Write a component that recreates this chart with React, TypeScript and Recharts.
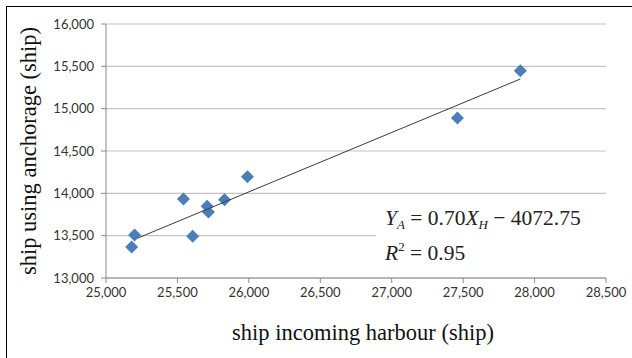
import {
  CartesianGrid,
  Label,
  ReferenceArea,
  Scatter,
  ScatterChart,
  XAxis,
  YAxis,
} from "recharts";

// ships entering harbour vs ships using anchorage
const harbourIn = [25180, 25200, 25542, 25607, 25708, 25717, 25830, 25990, 27460, 27900];
const anchorage = [13366, 13508, 13933, 13492, 13846, 13780, 13925, 14197, 14890, 15448];

const trendX = [25220, 27900];
const trendY = [13470, 15350];

const xTicks = [25000, 25500, 26000, 26500, 27000, 27500, 28000, 28500];
const yTicks = [13000, 13500, 14000, 14500, 15000, 15500, 16000];

const points = harbourIn.map((x, i) => ({ x, y: anchorage[i] }));
const trend = trendX.map((x, i) => ({ x, y: trendY[i] }));

const fmt = (v: number) => v.toLocaleString("en-US");
const tickStyle = { fontFamily: "Lato, sans-serif", fontSize: 13, fill: "#333" };
const serif = "'Liberation Serif', 'Times New Roman', serif";

const Diamond = (props: any) => {
  const { cx, cy } = props;
  const r = 6.5;
  return (
    <path
      d={`M${cx},${cy - r}L${cx + r},${cy}L${cx},${cy + r}L${cx - r},${cy}Z`}
      fill="#4a7ebb"
    />
  );
};

const EquationBox = (props: any) => {
  const vb = props.viewBox;
  const x = vb.x + 9;
  return (
    <text fontFamily={serif} fontSize={21.5} fill="#222">
      <tspan x={x} y={vb.y + 22} fontStyle="italic">Y</tspan>
      <tspan fontSize={13} fontStyle="italic" dy={4}>A</tspan>
      <tspan dy={-4}> = 0.70</tspan>
      <tspan fontStyle="italic">X</tspan>
      <tspan fontSize={13} fontStyle="italic" dy={4}>H</tspan>
      <tspan dy={-4}> − 4072.75</tspan>
      <tspan x={x} y={vb.y + 57} fontStyle="italic">R</tspan>
      <tspan fontSize={13} dy={-9}>2</tspan>
      <tspan dy={9}> = 0.95</tspan>
    </text>
  );
};

export default function App() {
  return (
    <div
      style={{
        position: "absolute",
        left: 0,
        top: 0,
        width: 632,
        height: 358,
        background: "#fff",
        overflow: "hidden",
      }}
    >
      <div
        style={{
          position: "absolute",
          left: 6,
          top: 6,
          width: 640,
          height: 360,
          borderTop: "1.5px solid #000",
          borderLeft: "1.5px solid #000",
        }}
      />
      <ScatterChart
        width={632}
        height={358}
        margin={{ top: 24, right: 26, left: 0, bottom: 0 }}
        style={{ position: "absolute", left: 0, top: 0 }}
      >
        <CartesianGrid vertical={false} stroke="#c4c4c4" strokeWidth={1.2} />
        <XAxis
          type="number"
          dataKey="x"
          domain={[25000, 28500]}
          ticks={xTicks}
          tickFormatter={fmt}
          tick={tickStyle}
          tickSize={5}
          tickMargin={5}
          height={80}
          stroke="#8a8a8a"
          tickLine={{ stroke: "#8a8a8a" }}
        >
          <Label
            content={(p: any) => {
              const vb = p.viewBox;
              return (
                <text
                  x={363}
                  y={vb.y + 54}
                  textAnchor="middle"
                  dominantBaseline="central"
                  fontFamily={serif}
                  fontSize={22.5}
                  fill="#111"
                >
                  ship incoming harbour (ship)
                </text>
              );
            }}
          />
        </XAxis>
        <YAxis
          type="number"
          dataKey="y"
          domain={[13000, 16000]}
          ticks={yTicks}
          tickFormatter={fmt}
          tick={tickStyle}
          tickSize={5}
          tickMargin={7}
          width={106}
          stroke="#8a8a8a"
          tickLine={{ stroke: "#8a8a8a" }}
        >
          <Label
            content={(p: any) => {
              const vb = p.viewBox;
              const cx = 28;
              const cy = vb.y + vb.height / 2;
              return (
                <text
                  x={cx}
                  y={cy}
                  transform={`rotate(-90 ${cx} ${cy})`}
                  textAnchor="middle"
                  dominantBaseline="central"
                  fontFamily={serif}
                  fontSize={22.5}
                  fill="#111"
                >
                  ship using anchorage (ship)
                </text>
              );
            }}
          />
        </YAxis>
        <ReferenceArea
          x1={26890}
          x2={28500}
          y1={13060}
          y2={13890}
          fill="#fff"
          fillOpacity={1}
          stroke="none"
          label={<EquationBox />}
        />
        <Scatter data={points} shape={<Diamond />} isAnimationActive={false} />
        <Scatter
          data={trend}
          line={{ stroke: "#3a3a3a", strokeWidth: 1 }}
          shape={() => <g />}
          isAnimationActive={false}
        />
      </ScatterChart>
    </div>
  );
}
